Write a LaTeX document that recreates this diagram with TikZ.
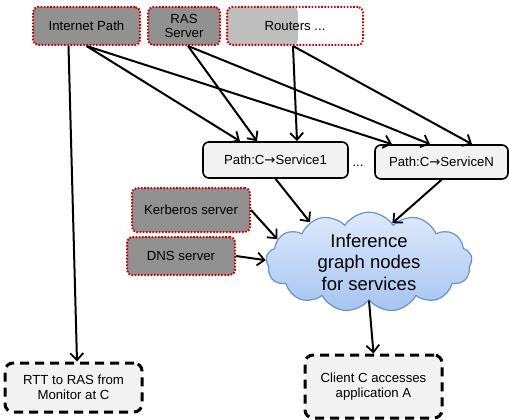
\documentclass[tikz,border=0pt]{standalone}
\usepackage{fontspec}
\setmainfont{Liberation Sans}
\newfontfamily\arrowfont{DejaVu Sans}
\usetikzlibrary{arrows.meta,shapes.symbols}

\definecolor{srcgray}{RGB}{145,145,145}
\definecolor{lightsrc}{RGB}{190,190,190}
\definecolor{dotred}{RGB}{200,0,0}
\definecolor{boxfill}{RGB}{242,242,242}
\definecolor{cloudtop}{RGB}{222,234,252}
\definecolor{cloudbot}{RGB}{166,196,240}
\definecolor{cloudline}{RGB}{100,148,210}

\newcommand{\toarrow}{{\arrowfont →}}

\tikzset{
  x=1pt, y=-1pt,
  every node/.style={font=\fontsize{13.2}{14.5}\selectfont, align=center, inner sep=0pt},
  source/.style={draw=dotred, line width=2pt, dash pattern=on 1.6pt off 1.6pt,
    rounded corners=5pt, fill=srcgray},
  pathbox/.style={draw=black, line width=1.6pt, rounded corners=6pt, fill=boxfill},
  obsbox/.style={draw=black, line width=3pt, dash pattern=on 9pt off 6pt,
    rounded corners=8pt, fill=boxfill},
  link/.style={draw=black, line width=2pt, -{Straight Barb[length=7pt,width=13pt,line width=1.8pt]}}
}

\begin{document}
\begin{tikzpicture}
\useasboundingbox (0,0) rectangle (509,420);

% observed root causes along the top
\node[source, minimum width=107pt, minimum height=38pt] (inet) at (86.5,26) {Internet Path};
\node[source, minimum width=72pt, minimum height=38pt] (ras) at (184,26) {RAS\\[-1pt]Server};
\node[draw=dotred, line width=2pt, dash pattern=on 1.6pt off 1.6pt, rounded corners=5pt,
  minimum width=136pt, minimum height=38pt,
  path picture={\fill[lightsrc, rounded corners=5pt] (path picture bounding box.north west)
    rectangle ([xshift=71pt]path picture bounding box.south west);}]
  (routers) at (295,26) {Routers ...};

% path nodes
\node[pathbox, minimum width=145pt, minimum height=36pt] (s1) at (275.5,160) {Path:C\toarrow Service1};
\node (dots) at (358,166) {...};
\node[pathbox, minimum width=133pt, minimum height=34pt] (sN) at (441.5,162) {Path:C\toarrow ServiceN};

% service hosts
\node[source, minimum width=118pt, minimum height=44pt] (kerb) at (191,210) {Kerberos server};
\node[source, minimum width=108pt, minimum height=38pt] (dns) at (181,256) {DNS server};

% inference cloud
\node[cloud, cloud puffs=13, cloud puff arc=115, aspect=2.1,
  draw=cloudline, line width=1.2pt, top color=cloudtop, bottom color=cloudbot,
  minimum width=206pt, minimum height=98pt,
  font=\fontsize{18.5}{21.5}\selectfont] (cl) at (369,262) {Inference\\graph nodes\\for services};

% observations
\node[obsbox, minimum width=137pt, minimum height=49pt] (rtt) at (73.5,387.5) {RTT to RAS from\\Monitor at C};
\node[obsbox, minimum width=137pt, minimum height=63pt] (client) at (373.5,386.5) {Client C accesses\\application A};

% edges
\draw[link] ([xshift=-18pt]inet.south) -- ([xshift=3.5pt]rtt.north);
\draw[link] (inet.south) -- ([xshift=-35.5pt]s1.north);
\draw[link] (inet.south) -- ([xshift=-49.5pt]sN.north);
\draw[link] ([xshift=4pt]ras.south) -- ([xshift=-18.5pt]s1.north);
\draw[link] ([xshift=4pt]ras.south) -- ([xshift=-11.5pt]sN.north);
\draw[link] ([xshift=-2pt]routers.south) -- ([xshift=21.5pt]s1.north);
\draw[link] ([xshift=-2pt]routers.south) -- ([xshift=30.5pt]sN.north);

\draw[link] (s1.south) -- (cl.146);
\draw[link] (sN.south) -- (cl.59);
\draw[link] (kerb.east) -- (cl.166);
\draw[link] (dns.east) -- (cl.179);
\draw[link] (cl.south) -- (client.north);
\end{tikzpicture}
\end{document}
